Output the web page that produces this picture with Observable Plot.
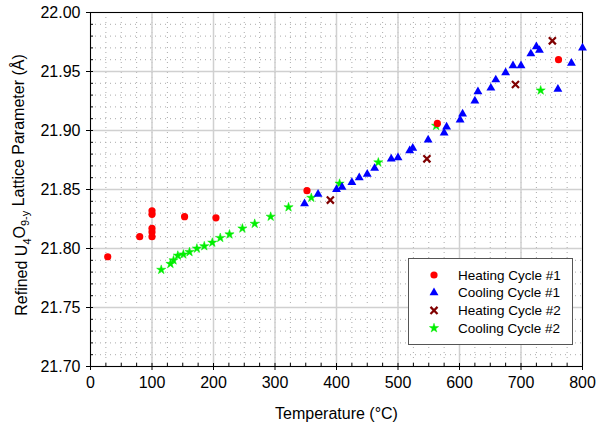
<!DOCTYPE html>
<html><head><meta charset="utf-8">
<script src="https://cdn.jsdelivr.net/npm/d3@7"></script>
<script src="https://cdn.jsdelivr.net/npm/@observablehq/plot@0.6"></script>
<style>
body{margin:0;background:#fff;font-family:"Liberation Sans",Arial,sans-serif;}
#wrap{position:relative;width:611px;height:429px;}
#legend{position:absolute;left:408px;top:258px;width:165px;height:87px;border:1px solid #555;background:#fff;box-sizing:border-box;}
</style></head><body><div id="wrap"></div>
<script>
// ---- data (temperature °C, lattice parameter Å) ----
const heat1T = [28, 80, 100, 100, 100, 100, 100, 153, 204, 352, 564, 761];
const heat1A = [21.793, 21.810, 21.832, 21.829, 21.817, 21.814, 21.810, 21.827, 21.826, 21.849, 21.906, 21.960];

const cool1T = [348, 370, 400, 409, 425, 437, 450, 462, 489, 500, 519, 524, 549, 575, 579, 601, 605, 625, 630, 651, 659, 675, 687, 700, 716, 725, 730, 760, 782, 800];
const cool1A = [21.838, 21.846, 21.850, 21.852, 21.856, 21.860, 21.863, 21.868, 21.876, 21.877, 21.883, 21.885, 21.892, 21.898, 21.903, 21.909, 21.914, 21.925, 21.933, 21.936, 21.943, 21.949, 21.955, 21.955, 21.965, 21.971, 21.968, 21.935, 21.957, 21.970];

const heat2T = [390, 547, 691, 751];
const heat2A = [21.841, 21.876, 21.939, 21.976];

const cool2T = [115, 130, 135, 142, 151, 161, 173, 185, 198, 211, 226, 247, 267, 293, 322, 359, 405, 468, 562, 732];
const cool2A = [21.782, 21.787, 21.790, 21.794, 21.795, 21.797, 21.800, 21.802, 21.805, 21.809, 21.812, 21.817, 21.821, 21.827, 21.835, 21.843, 21.855, 21.873, 21.904, 21.934];

const seriesNames = ["Heating Cycle #1", "Cooling Cycle #1", "Heating Cycle #2", "Cooling Cycle #2"];
const xTicks = [0, 100, 200, 300, 400, 500, 600, 700, 800];
const yTicks = [21.70, 21.75, 21.80, 21.85, 21.90, 21.95, 22.00];
const xMinor = d3.range(0, 33).map(i => i * 25);
const yMinor = d3.range(0, 31).map(i => +(21.70 + i * 0.01).toFixed(2));

const toRows = (T, A) => T.map((t, i) => ({t, a: A[i]}));
const h1 = toRows(heat1T, heat1A), c1 = toRows(cool1T, cool1A), h2 = toRows(heat2T, heat2A), c2 = toRows(cool2T, cool2A);

const FONT = "Liberation Sans, Arial, sans-serif";
const plot = Plot.plot({
  width: 611, height: 429,
  marginLeft: 90, marginRight: 29, marginTop: 12, marginBottom: 63,
  style: {fontFamily: FONT, fontSize: "16px", color: "#000", background: "#fff", overflow: "visible"},
  x: {domain: [0, 800]},
  y: {domain: [21.70, 22.00]},
  marks: [
    Plot.gridX(xMinor, {stroke: "#aaa", strokeOpacity: 1, strokeDasharray: "1,4", strokeWidth: 1}),
    Plot.gridY(yMinor, {stroke: "#aaa", strokeOpacity: 1, strokeDasharray: "1,4", strokeWidth: 1}),
    Plot.gridX(xTicks, {stroke: "#d0d0d0", strokeOpacity: 1, strokeWidth: 1.5}),
    Plot.gridY(yTicks, {stroke: "#d0d0d0", strokeOpacity: 1, strokeWidth: 1.5}),
    Plot.frame({stroke: "#000", strokeWidth: 1}),
    Plot.axisX(xTicks, {tickSize: 4, tickPadding: 6, label: "Temperature (°C)", labelAnchor: "center", labelArrow: "none", labelOffset: 52}),
    Plot.axisX(xMinor, {tickSize: 3, dy: -3, tickFormat: () => "", label: null}),
    Plot.axisY(yTicks, {tickSize: 4, tickPadding: 6, tickFormat: d3.format(".2f"), label: null}),
    Plot.axisY(yMinor, {tickSize: 3, dx: 3, tickFormat: () => "", label: null}),
    Plot.dot(c2, {x: "t", y: "a", symbol: "star", r: 2.9, fill: "#00ee00", stroke: "#00ee00", strokeWidth: 0.5}),
    Plot.dot(c1, {x: "t", y: "a", symbol: "triangle", r: 3.3, fill: "#0000ff"}),
    Plot.dot(h2, {x: "t", y: "a", symbol: "times", r: 3.3, stroke: "#800000", strokeWidth: 2.2}),
    Plot.dot(h1, {x: "t", y: "a", symbol: "circle", r: 3.6, fill: "#ff0000"})
  ]
});
const wrap = document.getElementById("wrap");
wrap.appendChild(plot);

// y-axis label with subscripts
const svg = d3.select(plot);
const lab = svg.append("text")
  .attr("transform", "translate(27,185) rotate(-90)")
  .attr("text-anchor", "middle")
  .attr("font-family", FONT).attr("font-size", 16).attr("fill", "#000");
lab.append("tspan").text("Refined U");
lab.append("tspan").attr("font-size", 11).attr("dy", "0.35em").text("4");
lab.append("tspan").attr("dy", "-0.35em").text("O");
lab.append("tspan").attr("font-size", 11).attr("dy", "0.35em").text("9-y");
lab.append("tspan").attr("dy", "-0.35em").text(" Lattice Parameter (Å)");

// legend
const legend = document.createElement("div");
legend.id = "legend";
wrap.appendChild(legend);
const lsvg = d3.select(legend).append("svg").attr("width", 163).attr("height", 85);
const legSpec = [
  {name: seriesNames[0], sym: d3.symbolCircle, r: 3.6, fill: "#ff0000", stroke: "none", sw: 0},
  {name: seriesNames[1], sym: d3.symbolTriangle, r: 3.3, fill: "#0000ff", stroke: "none", sw: 0},
  {name: seriesNames[2], sym: d3.symbolTimes, r: 3.3, fill: "none", stroke: "#800000", sw: 2.2},
  {name: seriesNames[3], sym: d3.symbolStar, r: 2.9, fill: "#00ee00", stroke: "#00ee00", sw: 0.5}
];
legSpec.forEach((s, i) => {
  const cy = 16 + i * 17.7;
  lsvg.append("path").attr("d", d3.symbol(s.sym, s.r * s.r * Math.PI)())
    .attr("transform", `translate(25,${cy})`)
    .attr("fill", s.fill).attr("stroke", s.stroke).attr("stroke-width", s.sw);
  lsvg.append("text").attr("x", 49).attr("y", cy).attr("dy", "0.35em")
    .attr("font-family", FONT).attr("font-size", 13.5).attr("fill", "#000").text(s.name);
});
</script>
</body></html>
